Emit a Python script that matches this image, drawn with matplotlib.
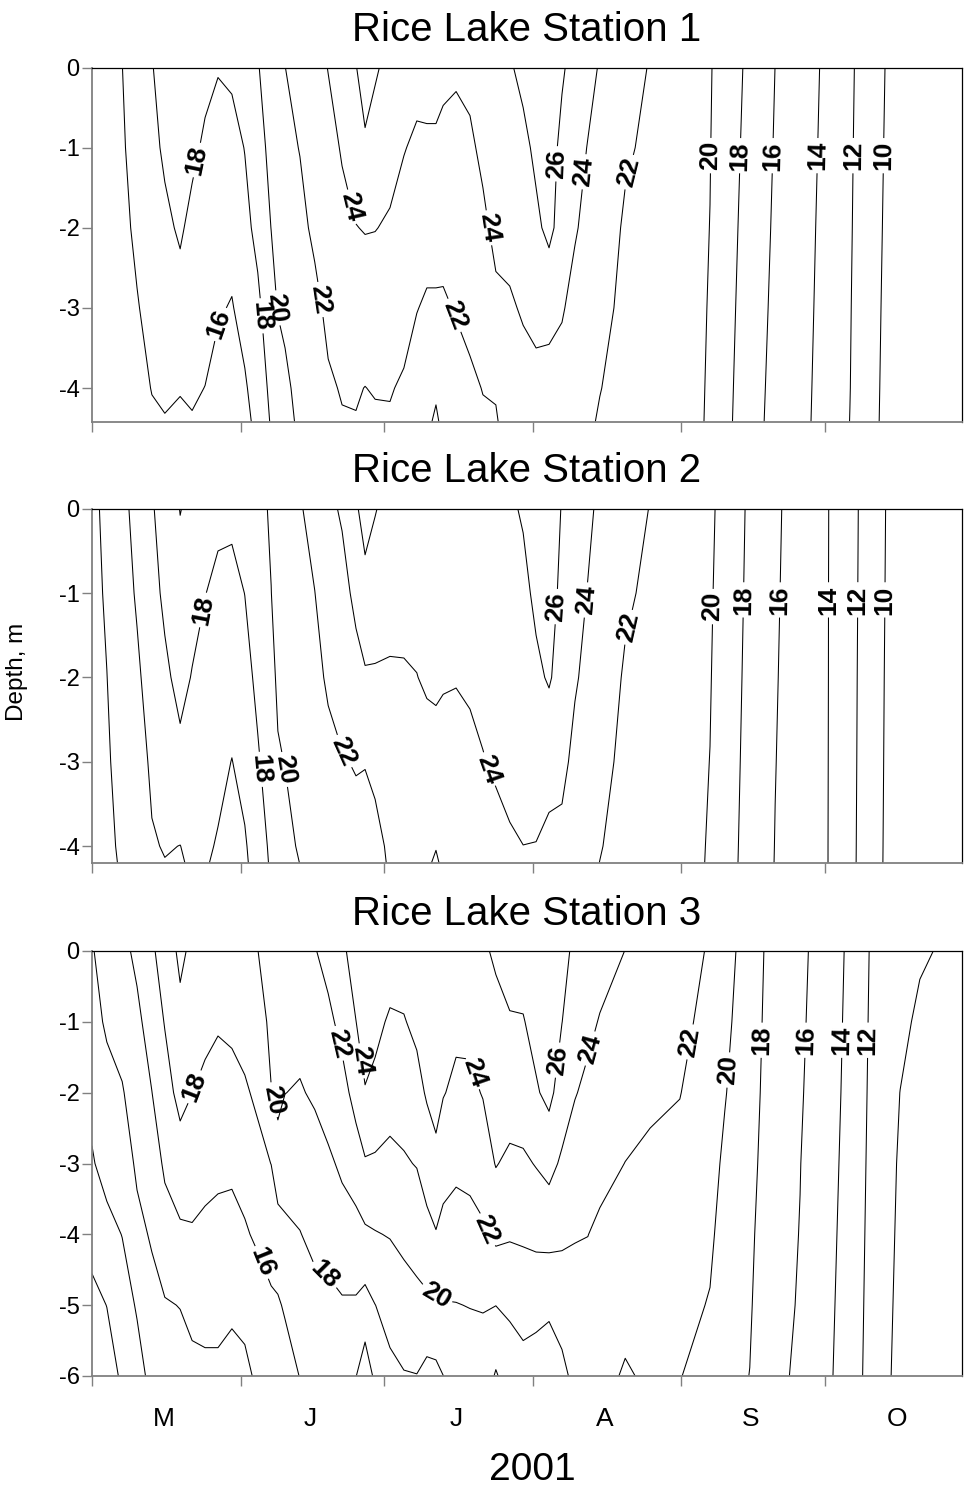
import numpy as np
import matplotlib
matplotlib.use("Agg")
import matplotlib.pyplot as plt

plt.rcParams['font.family'] = ['Liberation Sans', 'DejaVu Sans']
plt.rcParams['axes.unicode_minus'] = False

# ---------------- data ----------------
# sampling dates, day of year 2001
days = [121.0, 124.1, 127.3, 130.4, 133.5, 136.2, 139.4, 141.9, 144.6, 147.3,
        150.2, 152.9, 155.6, 158.4, 159.8, 161.3, 164.4, 167.5, 170.3, 173.2, 176.1,
        178.0, 180.1, 183.2, 186.1, 188.8, 190.9, 192.8, 194.3, 197.0, 199.9,
        202.6, 205.3, 208.2, 211.0, 213.7, 216.4, 219.1, 221.8, 224.5, 227.0,
        232.3, 237.5, 243.7, 250.0, 253.1, 258.3, 263.6, 268.8, 274.0, 279.2,
        284.4, 289.7, 293.8, 298.0, 302.6]

levels = [10, 12, 14, 16, 18, 20, 22, 24, 26]

# Station 1 temperature (deg C) at each depth
s1_depths = [0, -1, -2, -3, -4, -4.42]
s1_t0 = [15.0, 15.5, 15.98, 17.0, 17.9, 18.8, 19.2, 19.0, 18.5, 18.1, 18.3, 19.4, 19.9, 20.8, 21.4, 21.98, 22.8, 23.3, 24.05, 24.6, 25.95, 26.6, 26.2, 25.5, 24.9, 24.6, 24.7, 24.7, 24.45, 24.3, 24.6, 25.2, 25.6, 25.8, 26.5, 26.9, 27.0, 26.2, 25.4, 24.8, 23.8, 22.7, 21.9, 21.01, 20.12, 19.22, 17.53, 15.99, 14.91, 13.75, 12.29, 10.67, 9.0, 8.7, 8.35, 8.0]
s1_t1 = [14.9, 15.4, 15.8, 16.7, 17.5, 18.3, 18.9, 18.4, 17.7, 17.3, 17.4, 18.05, 19.3, 20.5, 21.05, 21.6, 22.05, 22.9, 23.4, 24.15, 25.0, 25.8, 25.3, 24.6, 24.08, 23.7, 23.7, 23.7, 23.5, 23.3, 23.6, 24.5, 25.0, 25.4, 25.5, 26.4, 26.7, 25.6, 25.0, 23.9, 23.4, 22.2, 21.7, 20.96, 20.05, 19.07, 17.35, 15.87, 14.82, 13.66, 12.22, 10.58, 8.91, 8.65, 8.3, 7.95]
s1_t2 = [14.8, 15.3, 15.6, 16.3, 17.0, 17.6, 18.25, 17.5, 17.1, 16.8, 16.6, 17.5, 18.5, 20.03, 20.6, 21.0, 21.6, 22.3, 22.9, 23.5, 23.95, 24.1, 24.05, 23.8, 23.3, 23.0, 22.6, 22.6, 22.55, 22.7, 23.0, 23.5, 24.6, 24.8, 25.0, 25.6, 26.5, 25.2, 24.2, 23.4, 22.9, 21.8, 21.51, 20.91, 19.98, 18.92, 17.17, 15.75, 14.72, 13.57, 12.16, 10.5, 8.82, 8.6, 8.25, 7.91]
s1_t3 = [14.6, 15.1, 15.3, 15.9, 16.5, 16.9, 17.3, 16.8, 16.6, 16.15, 15.9, 16.6, 17.6, 19.2, 20.1, 20.4, 21.1, 21.6, 22.35, 22.8, 22.9, 22.9, 23.0, 22.9, 22.6, 22.05, 21.8, 21.8, 21.8, 22.1, 22.45, 22.8, 23.5, 23.7, 24.25, 24.5, 24.5, 24.2, 23.3, 22.9, 22.5, 21.6, 21.31, 20.87, 19.9, 18.77, 16.99, 15.62, 14.63, 13.49, 12.09, 10.41, 8.73, 8.55, 8.2, 7.86]
s1_t4 = [14.4, 14.9, 15.1, 15.5, 16.05, 16.3, 16.1, 16.2, 15.98, 15.5, 15.4, 15.8, 16.8, 18.5, 19.1, 19.6, 20.6, 21.0, 21.8, 22.1, 22.1, 21.98, 22.1, 22.1, 21.8, 21.3, 20.9, 20.4, 21.0, 21.4, 21.7, 22.05, 22.1, 22.8, 23.1, 23.5, 23.4, 23.1, 22.5, 22.4, 22.05, 21.4, 21.11, 20.82, 19.83, 18.62, 16.81, 15.49, 14.54, 13.40, 12.03, 10.33, 8.64, 8.5, 8.15, 7.82]
s1_tbot = [14.3, 14.8, 15.0, 15.4, 15.8, 15.9, 15.7, 15.9, 15.7, 15.3, 15.2, 15.6, 16.4, 18.2, 18.75, 19.3, 20.4, 20.7, 21.5, 21.9, 21.95, 21.7, 21.8, 21.85, 21.5, 21.0, 20.5, 19.6, 20.6, 21.1, 21.4, 21.8, 21.9, 22.5, 22.8, 23.2, 23.1, 22.8, 22.2, 22.25, 21.85, 21.3, 21.03, 20.8, 19.8, 18.56, 16.73, 15.44, 14.5, 13.36, 11.98, 10.29, 8.6, 8.45, 8.1, 7.8]

# Station 2
s2_depths = [0, -1, -2, -3, -4, -4.2]
s2_t0 = [13.6, 14.4, 15.5, 16.6, 17.8, 18.9, 20.05, 19.6, 19.4, 18.5, 18.4, 19.0, 19.5, 20.2, 20.9, 21.5, 21.85, 22.6, 23.5, 24.25, 25.8, 26.6, 26.1, 25.3, 25.0, 24.9, 24.9, 24.9, 24.9, 25.0, 25.2, 25.4, 25.6, 25.7, 26.2, 26.9, 27.0, 25.9, 25.4, 24.5, 23.5, 22.7, 21.95, 21.08, 20.3, 19.42, 17.67, 16.28, 15.22, 14.24, 12.64, 10.74, 9.0, 8.6, 8.3, 8.0]
s2_t1 = [13.5, 14.2, 15.2, 16.2, 17.3, 18.4, 19.4, 18.7, 18.05, 17.5, 17.45, 18.02, 19.0, 19.98, 20.6, 21.0, 21.5, 21.98, 22.9, 23.3, 24.5, 25.5, 25.0, 24.6, 24.5, 24.5, 24.6, 24.6, 24.5, 24.6, 24.8, 25.0, 25.3, 25.4, 25.5, 26.4, 26.7, 25.6, 25.0, 23.9, 23.1, 22.2, 21.74, 20.99, 20.19, 19.27, 17.58, 16.2, 15.18, 14.23, 12.6, 10.7, 8.95, 8.58, 8.28, 7.98]
s2_t2 = [13.4, 13.98, 14.9, 15.7, 16.8, 17.6, 18.6, 17.9, 17.4, 17.0, 16.8, 17.4, 18.4, 19.4, 20.35, 20.5, 21.1, 21.6, 22.2, 22.6, 23.3, 23.75, 23.8, 23.8, 23.85, 23.97, 24.2, 24.3, 24.15, 24.1, 24.3, 24.6, 24.9, 25.0, 25.2, 25.6, 26.2, 25.2, 24.2, 23.5, 22.8, 21.85, 21.53, 20.9, 20.09, 19.12, 17.49, 16.12, 15.15, 14.23, 12.56, 10.65, 8.9, 8.56, 8.26, 7.95]
s2_t3 = [13.3, 13.8, 14.6, 15.2, 16.3, 16.9, 17.5, 17.1, 16.9, 16.5, 15.96, 16.6, 17.8, 18.9, 19.8, 20.05, 20.7, 21.2, 21.6, 21.9, 22.1, 22.05, 22.4, 23.0, 23.1, 23.3, 23.4, 23.4, 23.4, 23.3, 23.5, 23.9, 24.3, 24.5, 24.7, 24.9, 24.6, 24.5, 23.5, 23.0, 22.5, 21.6, 21.31, 20.81, 19.98, 18.97, 17.4, 16.04, 15.11, 14.22, 12.53, 10.61, 8.86, 8.53, 8.23, 7.93]
s2_t4 = [13.2, 13.6, 14.3, 14.8, 15.85, 16.1, 15.98, 16.4, 16.3, 15.85, 15.5, 15.8, 17.0, 18.4, 19.0, 19.5, 20.2, 20.8, 21.1, 21.4, 21.5, 21.5, 21.5, 22.3, 22.5, 22.6, 22.5, 22.1, 22.6, 22.7, 22.8, 23.0, 23.3, 23.8, 23.99, 23.95, 23.6, 23.5, 23.0, 22.5, 22.1, 21.3, 21.10, 20.72, 19.87, 18.82, 17.31, 15.96, 15.08, 14.21, 12.49, 10.57, 8.81, 8.51, 8.21, 7.9]
s2_tbot = [13.2, 13.55, 14.2, 14.7, 15.75, 15.95, 15.8, 16.3, 16.15, 15.7, 15.4, 15.7, 16.8, 18.3, 18.9, 19.4, 20.02, 20.7, 21.0, 21.3, 21.4, 21.4, 21.4, 22.2, 22.4, 22.5, 22.3, 21.7, 22.4, 22.5, 22.6, 22.8, 23.1, 23.6, 23.8, 23.8, 23.5, 23.3, 22.9, 22.4, 21.98, 21.25, 21.06, 20.7, 19.85, 18.79, 17.29, 15.94, 15.07, 14.21, 12.48, 10.56, 8.8, 8.5, 8.2, 7.9]

# Station 3
s3_depths = [0, -1, -2, -3, -4, -5, -6]
s3_t0 = [13.9, 14.6, 15.5, 16.4, 17.7, 18.9, 20.4, 19.6, 19.5, 19.3, 19.2, 19.6, 19.98, 20.8, 21.0, 21.0, 21.2, 21.9, 22.6, 23.6, 24.9, 25.5, 25.0, 24.8, 24.8, 25.0, 25.5, 25.8, 25.6, 25.4, 25.5, 25.8, 26.2, 26.8, 26.8, 27.0, 27.1, 26.6, 25.6, 25.0, 24.7, 23.98, 23.3, 22.9, 21.8, 20.8, 19.0, 17.2, 16.5, 15.0, 13.7, 11.5, 10.7, 10.2, 9.9, 9.5]
s3_t1 = [13.5, 14.2, 14.8, 15.6, 16.8, 18.1, 19.5, 19.0, 18.8, 18.2, 18.3, 18.6, 19.2, 20.4, 20.7, 20.5, 20.6, 21.1, 21.6, 22.5, 23.98, 24.8, 24.4, 23.8, 23.9, 24.4, 24.8, 25.3, 25.0, 24.4, 24.45, 25.0, 25.6, 25.85, 25.9, 26.6, 26.8, 26.02, 25.0, 24.4, 23.9, 23.3, 22.8, 22.5, 21.4, 20.45, 18.85, 17.1, 16.35, 14.9, 13.62, 11.4, 10.4, 9.7, 9.4, 9.1]
s3_t2 = [12.6, 13.5, 13.85, 15.0, 15.98, 17.2, 18.6, 18.02, 17.3, 17.2, 17.5, 17.8, 18.3, 19.95, 20.5, 20.02, 19.85, 20.25, 20.8, 21.4, 22.6, 23.9, 23.6, 22.8, 22.9, 23.4, 24.2, 24.8, 24.1, 23.6, 23.6, 24.1, 24.8, 25.0, 25.1, 25.8, 26.5, 25.1, 24.1, 23.6, 23.2, 22.7, 22.3, 22.05, 21.0, 20.1, 18.7, 17.0, 16.2, 14.8, 13.55, 11.3, 9.98, 9.5, 9.2, 8.9]
s3_t3 = [11.8, 12.8, 13.0, 14.3, 15.0, 16.3, 17.1, 17.0, 16.6, 16.45, 16.4, 16.7, 17.5, 18.02, 19.2, 18.9, 18.8, 19.2, 19.7, 20.3, 21.2, 21.8, 21.7, 21.5, 21.8, 22.1, 22.9, 23.4, 22.8, 22.4, 22.5, 23.0, 24.1, 23.6, 23.7, 24.1, 24.6, 23.7, 23.1, 22.9, 22.5, 21.98, 21.7, 21.5, 20.6, 19.7, 18.5, 16.9, 16.04, 14.7, 13.45, 11.2, 9.8, 9.4, 9.1, 8.8]
s3_t4 = [10.5, 11.3, 12.05, 13.5, 14.2, 15.2, 15.7, 15.8, 15.6, 15.4, 15.3, 15.8, 16.3, 16.8, 17.1, 17.6, 17.95, 18.4, 18.6, 19.2, 19.2, 19.7, 19.9, 20.1, 20.5, 20.6, 21.4, 21.9, 21.4, 21.2, 21.4, 21.7, 22.4, 22.2, 22.3, 22.5, 22.6, 22.3, 22.1, 22.02, 21.7, 21.3, 21.1, 21.0, 20.3, 19.3, 18.3, 16.75, 15.95, 14.6, 13.35, 11.1, 9.7, 9.3, 9.0, 8.7]
s3_t5 = [9.6, 10.02, 11.0, 12.2, 13.4, 13.85, 14.05, 14.5, 14.6, 14.6, 14.25, 14.5, 15.1, 15.7, 15.8, 16.2, 17.0, 17.5, 17.6, 17.8, 17.8, 17.3, 17.98, 18.6, 19.1, 19.6, 19.6, 19.7, 19.9, 19.95, 20.05, 20.1, 20.02, 20.3, 20.6, 20.5, 20.3, 21.0, 21.3, 21.4, 21.1, 20.6, 20.7, 20.5, 19.9, 18.9, 18.15, 16.6, 15.85, 14.5, 13.25, 11.0, 9.6, 9.2, 8.9, 8.6]
s3_t6 = [9.2, 9.4, 10.2, 11.2, 12.6, 13.0, 13.2, 13.5, 13.6, 13.6, 13.5, 13.6, 14.3, 14.9, 15.0, 15.2, 16.05, 16.6, 16.8, 17.1, 16.05, 14.8, 16.4, 17.6, 17.9, 17.95, 17.4, 17.5, 17.98, 18.5, 19.0, 19.2, 17.8, 19.0, 19.4, 19.2, 19.0, 19.4, 20.6, 20.9, 20.6, 19.8, 20.3, 20.05, 19.4, 18.5, 17.98, 16.4, 15.7, 14.4, 13.15, 10.9, 9.5, 9.1, 8.8, 8.5]

month_starts = [121, 152, 182, 213, 244, 274]
month_mids = [136, 166.5, 197, 228, 258.5, 289]
month_labels = ['M', 'J', 'J', 'A', 'S', 'O']

# ---------------- label placement (style) ----------------
s1_label_pos = [(142.5, -1.15), (147.5, -3.2), (156.1, -3.1), (159.8, -3.0), (168.2, -2.9),
                (174.4, -1.75), (196.3, -3.1), (203.9, -2.0), (217.2, -1.2), (223.5, -1.3),
                (232.7, -1.3), (250.4, -1.1), (256.0, -1.1), (262.9, -1.1), (272.5, -1.1),
                (279.8, -1.1), (285.9, -1.1)]
s2_label_pos = [(144.2, -1.2), (156.1, -3.09), (161.3, -3.09), (172.8, -2.9), (203.7, -3.09),
                (218.0, -1.16), (223.9, -1.08), (232.6, -1.4), (250.7, -1.16), (256.9, -1.08),
                (263.9, -1.08), (275.2, -1.08), (280.9, -1.08), (286.1, -1.08)]
s3_label_pos = [(141.7, -1.9), (158.9, -2.1), (156.3, -4.4), (169.2, -4.6), (193.0, -4.85),
                (172.8, -1.3), (177.4, -1.55), (200.9, -1.71), (203.7, -3.93), (218.1, -1.54),
                (224.6, -1.37), (247.2, -1.3), (253.8, -1.68), (260.8, -1.26), (270.0, -1.26),
                (277.5, -1.26), (283.0, -1.26)]

W, H = 969, 1492
fig = plt.figure(figsize=(W / 100, H / 100), dpi=100)

def axes_px(x0, y0, x1, y1):
    return fig.add_axes([x0 / W, 1 - y1 / H, (x1 - x0) / W, (y1 - y0) / H])

def draw(ax, depths, rows, label_pos, ymin, yticks, title, show_months):
    Z = np.array(rows)
    cs = ax.contour(days, depths, Z, levels=levels, colors='black', linewidths=0.75)
    texts = ax.clabel(cs, inline=True, inline_spacing=3, fontsize=19, fmt='%d',
                      manual=label_pos)
    for t in texts:
        t.set_fontweight('bold')
    ax.set_xlim(121, 302.6)
    ax.set_ylim(ymin, 0)
    ax.set_yticks(yticks)
    ax.set_yticklabels([str(v) for v in yticks])
    ax.set_xticks(month_starts)
    ax.set_xticklabels([])
    ax.tick_params(axis='both', which='major', direction='out', length=7, width=1,
                   color='#808080', labelsize=17, pad=2)
    if show_months:
        ax.set_xticks(month_mids, minor=True)
        ax.set_xticklabels(month_labels, minor=True)
        ax.tick_params(axis='x', which='minor', length=0, labelsize=19, pad=22)
    for side in ['left', 'bottom']:
        ax.spines[side].set_color('#808080')
        ax.spines[side].set_linewidth(1.3)
    for side in ['top', 'right']:
        ax.spines[side].set_color('black')
        ax.spines[side].set_linewidth(0.9)
    ax.set_title(title, fontsize=29, pad=19)

ax1 = axes_px(92, 67.5, 962, 421.7)
draw(ax1, s1_depths, [s1_t0, s1_t1, s1_t2, s1_t3, s1_t4, s1_tbot], s1_label_pos,
     -4.42, [0, -1, -2, -3, -4], 'Rice Lake Station 1', False)

ax2 = axes_px(92, 508.8, 962, 863)
draw(ax2, s2_depths, [s2_t0, s2_t1, s2_t2, s2_t3, s2_t4, s2_tbot], s2_label_pos,
     -4.2, [0, -1, -2, -3, -4], 'Rice Lake Station 2', False)

ax3 = axes_px(92, 951, 962, 1376)
draw(ax3, s3_depths, [s3_t0, s3_t1, s3_t2, s3_t3, s3_t4, s3_t5, s3_t6], s3_label_pos,
     -6, [0, -1, -2, -3, -4, -5, -6], 'Rice Lake Station 3', True)

fig.text(17 / W, 1 - 672 / H, 'Depth, m', rotation=90, ha='center', va='center', fontsize=17.5)
fig.text(532.5 / W, 1 - 1470 / H, '2001', ha='center', va='center', fontsize=28)

fig.savefig('out.png', dpi=100, facecolor='white')
